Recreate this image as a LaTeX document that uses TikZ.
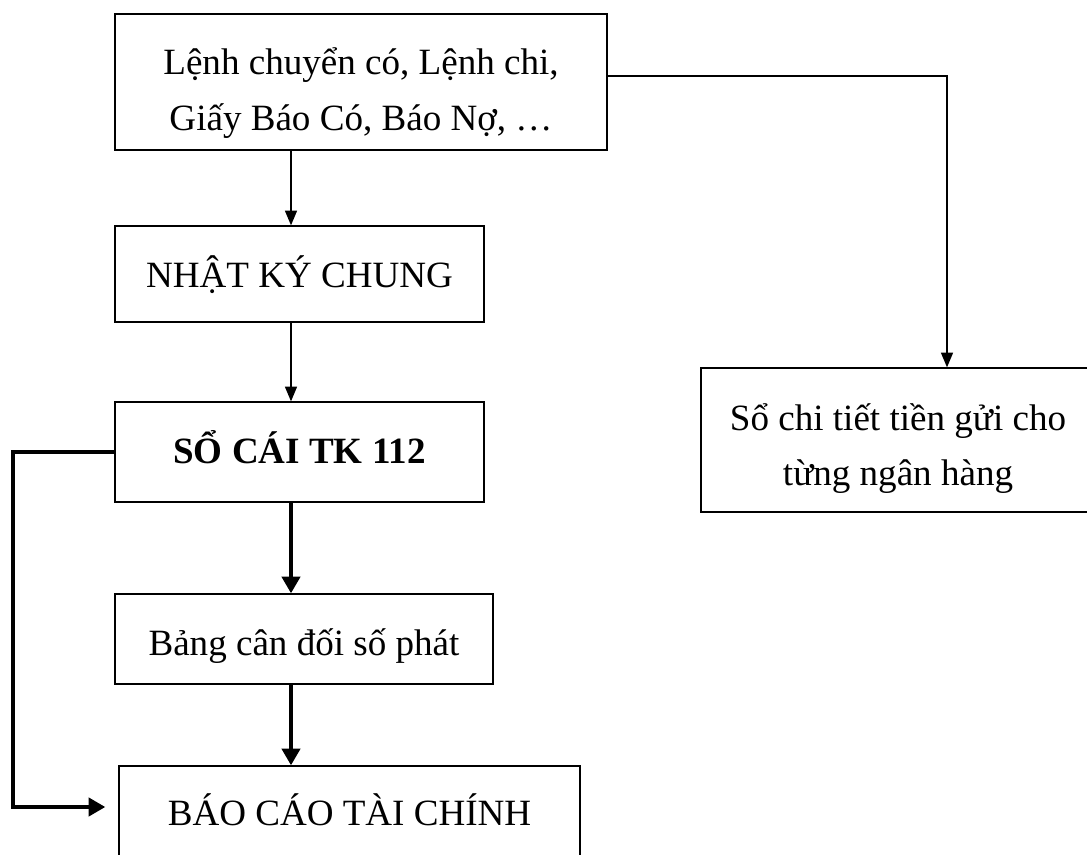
\documentclass[tikz,border=0pt]{standalone}
\usepackage{fontspec}
\setmainfont{Liberation Serif}
\usetikzlibrary{arrows.meta}
% invisible rules that fix the height above the first baseline and the depth below the last
\newcommand\uprule[1]{\rule{0pt}{#1}}
\newcommand\downrule[1]{\rule[-#1]{0pt}{#1}}
\begin{document}
\begin{tikzpicture}[x=0.75pt,y=-0.75pt,
  box/.style={draw,line width=1pt,rectangle,inner sep=0pt,align=center,
    font=\fontsize{27.8}{41.5}\selectfont},
  arrthin/.style={line width=1pt,-{Triangle[length=11pt,width=9pt]}},
  arrthick/.style={line width=3pt,-{Triangle[length=12.5pt,width=13.5pt]}}]
\useasboundingbox (0,0) rectangle (1087,855);
\clip (0,0) rectangle (1087,855);

% boxes of the bookkeeping flow
\node[box,minimum width=369pt,minimum height=102pt] (b1) at (361,82)
  {\uprule{41pt}Lệnh chuyển có, Lệnh chi,\\Giấy Báo Có, Báo Nợ, …\downrule{10pt}};
\node[box,minimum width=276.75pt,minimum height=72pt] (b2) at (299.5,274)
  {\uprule{35.5pt}NHẬT KÝ CHUNG\downrule{16pt}};
\node[box,minimum width=276.75pt,minimum height=75pt] (b3) at (299.5,452)
  {\uprule{32.5pt}\bfseries SỔ CÁI TK 112\downrule{16pt}};
\node[box,minimum width=283.5pt,minimum height=67.5pt] (b4) at (304,639)
  {\uprule{40pt}Bảng cân đối số phát\downrule{16pt}};
\node[box,minimum width=345.75pt,minimum height=70.5pt] (b5) at (349.5,813)
  {\uprule{34pt}BÁO CÁO TÀI CHÍNH\downrule{16pt}};
\node[box,minimum width=295.5pt,minimum height=108pt] (b6) at (898,440)
  {\uprule{36.5pt}Sổ chi tiết tiền gửi cho\\từng ngân hàng\downrule{10pt}};

% guide coordinates for the connectors
\coordinate (cx) at (291,0);
\coordinate (ry) at (0,76);
\coordinate (rx) at (947,0);
\coordinate (ly) at (0,807);
\coordinate (lx) at (13,0);

% connectors
\draw[arrthin] (cx |- b1.south) -- (cx |- b2.north);
\draw[arrthin] (cx |- b2.south) -- (cx |- b3.north);
\draw[arrthick] (cx |- b3.south) -- (cx |- b4.north);
\draw[arrthick] (cx |- b4.south) -- (cx |- b5.north);
\draw[arrthin] (b1.east |- ry) -| (rx |- b6.north);
\draw[arrthick,shorten >=9.75pt] (b3.west) -- (lx |- b3.west) -- (lx |- ly) -- (b5.west |- ly);
\end{tikzpicture}
\end{document}
